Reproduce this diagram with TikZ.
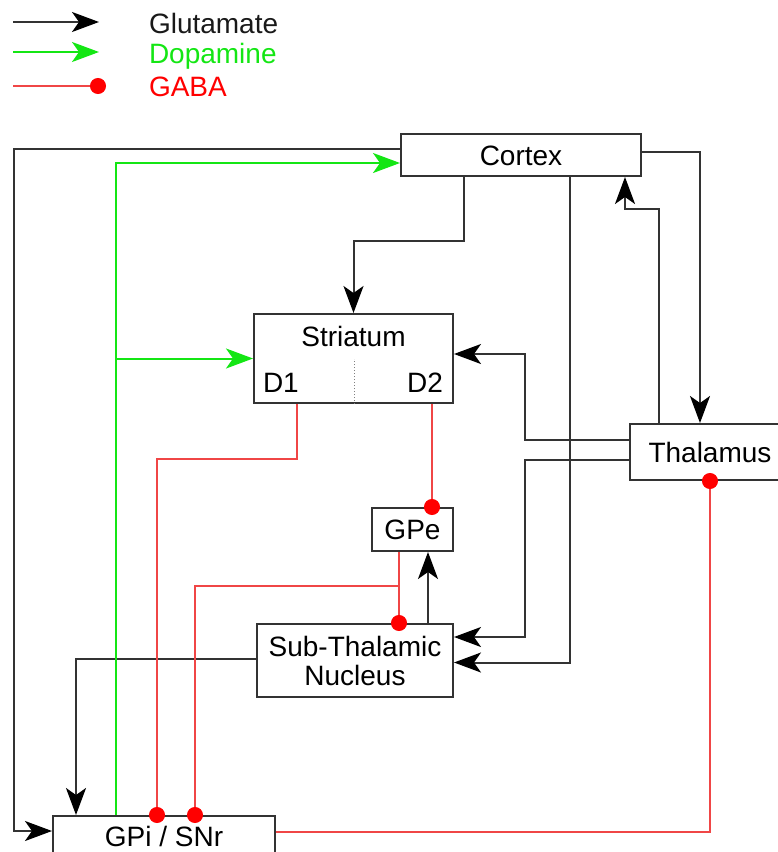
\documentclass[tikz,border=0pt]{standalone}
\usepackage{fontspec}
\setmainfont{Liberation Sans}
\usetikzlibrary{arrows.meta}
\definecolor{linegray}{RGB}{51,51,51}
\definecolor{dagreen}{RGB}{20,230,20}
\definecolor{gabared}{RGB}{240,70,70}
\definecolor{dotred}{RGB}{255,0,0}
\begin{document}
\begin{tikzpicture}[x=1pt,y=-1pt,line width=2pt,
  box/.style={draw=linegray,fill=white,inner sep=0pt,font=\fontsize{28}{29}\selectfont},
  onerow/.style={text height=20pt,text depth=0pt},
  lbl/.style={inner sep=0pt,text height=20pt,text depth=0pt,font=\fontsize{28}{29}\selectfont},
  glu/.style={draw=linegray,-{Stealth[length=27pt,width=20pt,inset=7pt,color=black]}},
  da/.style={draw=dagreen,-{Stealth[length=27pt,width=20pt,inset=7pt]}},
  gaba/.style={draw=gabared,line width=1.6pt,-{Circle[length=16pt,sep=-8pt,color=dotred]}}]
\clip (0,0) rectangle (778,852);
\coordinate (gluA) at (13,22);
\coordinate (gluB) at (99,22);
\coordinate (daA) at (13,52);
\coordinate (daB) at (99,52);
\coordinate (gabaA) at (13,86);
\coordinate (gabaB) at (98,86);
\node[lbl,anchor=west,text=black!90] (glutxt) at (148,23) {Glutamate};
\node[lbl,anchor=west,text=dagreen] (datxt) at (148,53) {Dopamine};
\node[lbl,anchor=west,text=dotred] (gabatxt) at (148,86) {GABA};
\draw[glu] (gluA) -- (gluB);
\draw[da] (daA) -- (daB);
\draw[gaba] (gabaA) -- (gabaB);
\node[box,onerow,minimum width=240,minimum height=42] (cortex) at (521,155) {Cortex};
\node[box,minimum width=199,minimum height=89] (striatum) at (353.5,358.5) {};
\node[lbl] (strtitle) at ([yshift=-23pt]striatum.north) {Striatum};
\node[lbl,anchor=west] (d1) at ([xshift=9pt,yshift=22pt]striatum.south west) {D1};
\node[lbl,anchor=east] (d2) at ([xshift=-10pt,yshift=22pt]striatum.south east) {D2};
\draw[line width=1pt,dotted,gray] ([xshift=1pt]striatum.south) -- ++(0,-45);
\node[box,onerow,minimum width=160,minimum height=56] (thalamus) at (710,452) {Thalamus};
\node[box,onerow,minimum width=81,minimum height=43] (gpe) at (412.5,529.5) {GPe};
\node[box,align=center,minimum width=196,minimum height=73] (stn) at (355,660.5) {Sub-Thalamic\\Nucleus};
\node[box,onerow,minimum width=222,minimum height=40] (gpi) at (164,836) {GPi / SNr};
\draw[glu] ([xshift=-57pt]cortex.south) -- ++(0,64) -| (striatum.north);
\draw[glu] ([xshift=49pt]cortex.south) |- ([yshift=-2pt]stn.east);
\draw[glu] ([yshift=3pt]cortex.east) -| ([xshift=-10pt]thalamus.north);
\draw[glu] ([xshift=-51pt]thalamus.north) -- ++(0,-214) -| ([xshift=104pt]cortex.south);
\draw[glu] ([yshift=12pt]thalamus.west) -- ++(-104,0) |- ([yshift=4.5pt]striatum.east);
\draw[glu] ([yshift=-8pt]thalamus.west) -- ++(-104,0) |- ([yshift=23.5pt]stn.east);
\draw[glu] ([yshift=1.5pt]stn.west) -| ([xshift=-88pt]gpi.north);
\draw[glu] ([xshift=73pt]stn.north) -- ([xshift=15.5pt]gpe.south);
\draw[glu] ([yshift=6pt]cortex.west) -- ++(-386,0) |- ([yshift=5pt]gpi.west);
\draw[da] ([xshift=-48pt]gpi.north) |- ([yshift=-8pt]cortex.west);
\draw[da] ([xshift=-48pt]gpi.north |- striatum.west) -- (striatum.west);
\draw[gaba] ([yshift=4pt]gpi.east) -| (thalamus.south);
\draw[gaba] ([xshift=-13.5pt]gpe.south) -- ([xshift=44pt]stn.north);
\draw[gaba] ([xshift=-13.5pt]gpe.south) -- ++(0,34) -| ([xshift=31pt]gpi.north);
\draw[gaba] ([xshift=-56.5pt]striatum.south) -- ++(0,55) -| ([xshift=-7pt]gpi.north);
\draw[gaba] ([xshift=78.5pt]striatum.south) -- ([xshift=19.5pt]gpe.north);
\end{tikzpicture}
\end{document}
